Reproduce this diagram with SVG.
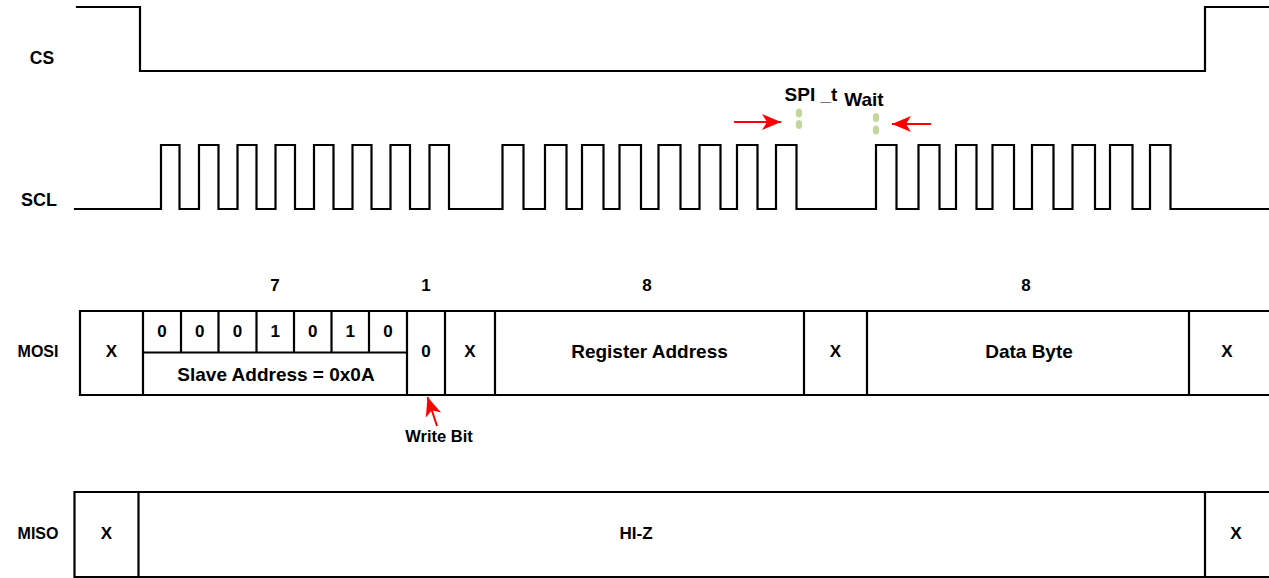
<svg xmlns="http://www.w3.org/2000/svg" width="1269" height="578" viewBox="0 0 1269 578">
<style>
.w{fill:none;stroke:#000;stroke-width:2.2;stroke-linejoin:miter;stroke-linecap:square}
.t{font-family:"Liberation Sans",Arial,sans-serif;font-weight:bold;font-size:19px;fill:#000;text-anchor:middle}
.s{font-size:17px}
.lb{font-size:16px}
.ar{stroke:#ff0000;stroke-width:2;fill:none}
.dot{fill:#c4d79b}
</style>
<defs>
<marker id="ah" markerUnits="userSpaceOnUse" markerWidth="20" markerHeight="16" refX="19" refY="8" orient="auto">
<path d="M0,0 L19,8 L0,16 L5,8 Z" fill="#ff0000"/>
</marker>
</defs>
<rect width="1269" height="578" fill="#fff"/>
<g id="cs">
<path class="w" d="M77,7 H140 V71 H1205 V7 H1269"/>
<text class="t" style="font-size:17.5px" x="42" y="63.5">CS</text>
</g>
<g id="scl">
<path class="w" d="M75,209 H161 V145 H179.5 V209 H199 V145 H218.5 V209 H237.5 V145 H256.5 V209 H275.5 V145 H295 V209 H314 V145 H333.5 V209 H352.5 V145 H371.5 V209 H390.5 V145 H410 V209 H429.5 V145 H449 V209 H502.5 V145 H523.5 V209 H545 V145 H566.5 V209 H582 V145 H603.5 V209 H619.5 V145 H641 V209 H658.5 V145 H680.5 V209 H699.5 V145 H720.5 V209 H737 V145 H757.5 V209 H776 V145 H796.5 V209 H876 V145 H896.5 V209 H918.5 V145 H939.5 V209 H956 V145 H976.5 V209 H992.5 V145 H1014 V209 H1032 V145 H1053.5 V209 H1072.5 V145 H1095 V209 H1110 V145 H1132.5 V209 H1150 V145 H1170.5 V209 H1269"/>
<text class="t" style="font-size:18px" x="39" y="206">SCL</text>
</g>
<g id="spi-wait">
<text class="t" x="811" y="101">SPI _t</text>
<text class="t" x="864" y="105.5">Wait</text>
<ellipse class="dot" cx="799" cy="113" rx="3.2" ry="4.5"/>
<ellipse class="dot" cx="799" cy="124.5" rx="3.2" ry="4.5"/>
<ellipse class="dot" cx="876" cy="117.5" rx="3.2" ry="4.5"/>
<ellipse class="dot" cx="876" cy="130" rx="3.2" ry="4.5"/>
</g>
<g id="counts">
<text class="t s" x="275" y="291">7</text>
<text class="t s" x="426" y="291">1</text>
<text class="t s" x="647" y="291">8</text>
<text class="t s" x="1026" y="291">8</text>
</g>
<g id="mosi">
<path class="w" d="M1270,311 H80 V395 H1270 M143,311 V395 M407,311 V395 M445,311 V395 M495,311 V395 M804,311 V395 M867,311 V395 M1189,311 V395 M143,352.5 H407 M181,311 V352.5 M218.5,311 V352.5 M256.5,311 V352.5 M294,311 V352.5 M331.5,311 V352.5 M369,311 V352.5"/>
<text class="t lb" x="38" y="357">MOSI</text>
<text class="t s" x="111.5" y="357">X</text>
<text class="t s" x="162" y="337">0</text>
<text class="t s" x="199.8" y="337">0</text>
<text class="t s" x="237.5" y="337">0</text>
<text class="t s" x="275.2" y="337">1</text>
<text class="t s" x="312.8" y="337">0</text>
<text class="t s" x="350.2" y="337">1</text>
<text class="t s" x="388" y="337">0</text>
<text class="t" x="276" y="380.5">Slave Address = 0x0A</text>
<text class="t s" x="426" y="357">0</text>
<text class="t s" x="470" y="357">X</text>
<text class="t" x="649.5" y="357.5">Register Address</text>
<text class="t s" x="835.5" y="357">X</text>
<text class="t" x="1029" y="357.5">Data Byte</text>
<text class="t s" x="1227" y="357">X</text>
</g>
<g id="write-bit">
<text class="t" style="font-size:16.5px" x="439" y="442">Write Bit</text>
</g>
<g id="miso">
<path class="w" d="M1270,492 H74.5 V577 H1270 M138.5,492 V577 M1205,492 V577"/>
<text class="t lb" x="38" y="539">MISO</text>
<text class="t s" x="106.5" y="539">X</text>
<text class="t s" x="636" y="539">HI-Z</text>
<text class="t s" x="1236" y="539">X</text>
</g>
<g id="connectors">
<line class="ar" x1="734" y1="122" x2="781" y2="122" marker-end="url(#ah)"/>
<line class="ar" x1="931" y1="124" x2="892" y2="124" marker-end="url(#ah)"/>
<line class="ar" x1="437" y1="426" x2="427.5" y2="397" marker-end="url(#ah)"/>
</g>
</svg>
